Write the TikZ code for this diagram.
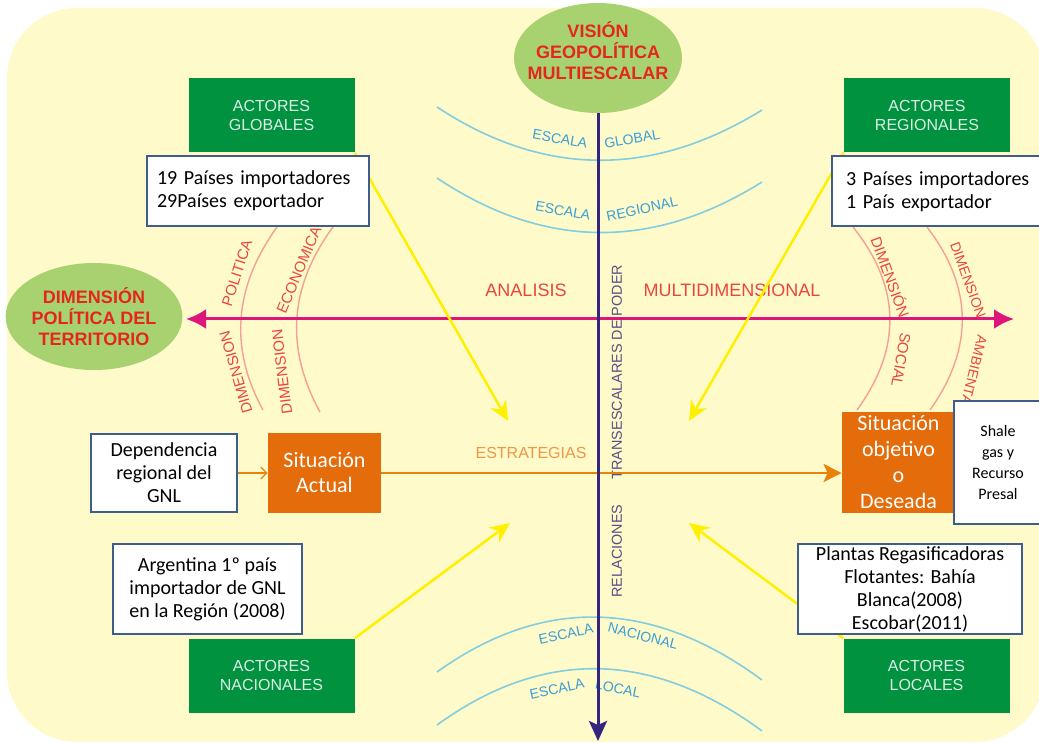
\documentclass[tikz,border=0pt]{standalone}
\usepackage{fontspec}
\setmainfont{Carlito}
\newfontfamily\arialf{Liberation Sans}
\usetikzlibrary{positioning, arrows.meta, shapes.geometric}

\definecolor{fondok}{RGB}{254, 250, 202}
\definecolor{verdek}{RGB}{0, 146, 63}
\definecolor{verdeclarok}{RGB}{168, 210, 112}
\definecolor{rojok}{RGB}{228, 38, 30}
\definecolor{magentak}{RGB}{222, 22, 124}
\definecolor{moradok}{RGB}{52, 38, 128}
\definecolor{naranjak}{RGB}{228, 108, 10}
\definecolor{naranjaclarok}{RGB}{240, 150, 70}
\definecolor{celestek}{RGB}{130, 205, 222}
\definecolor{azulk}{RGB}{58, 158, 214}
\definecolor{salmonk}{RGB}{245, 160, 150}
\definecolor{bordek}{RGB}{62, 92, 140}
\definecolor{amarillok}{RGB}{255, 240, 0}
\definecolor{grisk}{RGB}{88, 78, 132}

\tikzset{
  actor/.style={fill=verdek, minimum width=83pt, minimum height=37pt, inner sep=0pt,
                align=center, text=white!86!verdek, font=\arialf\fontsize{8}{9.5}\selectfont},
  dato/.style={draw=bordek, line width=1pt, fill=white, inner sep=0pt, align=center,
               font=\fontsize{10}{11.5}\selectfont},
  situacion/.style={fill=naranjak, text=white, inner sep=0pt, align=center,
                    font=\fontsize{11}{12.5}\selectfont},
  globo/.style={ellipse, fill=verdeclarok, inner sep=0pt, align=center, text=rojok,
                font=\arialf\bfseries\fontsize{9}{10.5}\selectfont},
  escala/.style={draw=celestek, line width=0.8pt},
  dimension/.style={draw=salmonk, line width=0.7pt},
  escalatxt/.style={text=azulk, inner sep=0pt, font=\arialf\fontsize{7}{8}\selectfont},
  dimtxt/.style={text=rojok!85!white, inner sep=0pt, font=\arialf\fontsize{7.5}{8}\selectfont},
  ejetxt/.style={text=rojok!85!white, font=\arialf\fontsize{9}{10}\selectfont},
  flecha/.style={draw=amarillok, line width=1.25pt, -{Stealth[length=10pt,width=9pt]}},
}

\begin{document}
\begin{tikzpicture}[x=0.5pt, y=-0.5pt]
  \useasboundingbox (0,0) rectangle (1039,743);
  \fill[fondok, rounded corners=35pt] (7,8) rectangle (1045,742);

  % escalas
  \draw[escala] (437,107) .. controls (543,177) and (652,178) .. (762,110);
  \draw[escala] (437,178) .. controls (543,249) and (652,251) .. (762,182);
  \draw[escala] (437,672) .. controls (543,596) and (652,599) .. (762,680);
  \draw[escala] (437,725) .. controls (543,648) and (652,650) .. (762,731);
  % dimensiones
  \draw[dimension] (277,227) .. controls (234,287) and (229,348) .. (263,410);
  \draw[dimension] (333,227) .. controls (289,287) and (285,348) .. (320,412);
  \draw[dimension] (853,227) .. controls (901,287) and (902,348) .. (857,410);
  \draw[dimension] (927,227) .. controls (973,287) and (974,348) .. (930,410);

  \node[escalatxt, rotate=-10] (eg1) at (560,139) {ESCALA};
  \node[escalatxt, rotate=10] (eg2) at (632,139) {GLOBAL};
  \node[escalatxt, rotate=-10] (er1) at (563,211) {ESCALA};
  \node[escalatxt, rotate=12] (er2) at (642,209) {REGIONAL};
  \node[escalatxt, rotate=12] (en1) at (566,634) {ESCALA};
  \node[escalatxt, rotate=-15] (en2) at (643,636) {NACIONAL};
  \node[escalatxt, rotate=12] (el1) at (557,689) {ESCALA};
  \node[escalatxt, rotate=-12] (el2) at (618,689) {LOCAL};

  \node[dimtxt, rotate=72] (dp1) at (237,273) {POLITICA};
  \node[dimtxt, rotate=106] (dp2) at (236,372) {DIMENSION};
  \node[dimtxt, rotate=67] (de1) at (299,270) {ECONOMICA};
  \node[dimtxt, rotate=97] (de2) at (282,372) {DIMENSION};
  \node[dimtxt, rotate=-70] (ds1) at (891,277) {DIMENSIÓN};
  \node[dimtxt, rotate=-100] (ds2) at (901,360) {SOCIAL};
  \node[dimtxt, rotate=-70, font=\arialf\fontsize{7}{8}\selectfont] (da1) at (968,280) {DIMENSION};
  \node[dimtxt, rotate=-104, font=\arialf\fontsize{7}{8}\selectfont] (da2) at (973,374) {AMBIENTAL};

  \node[ejetxt] (anal) at (526,290) {ANALISIS};
  \node[ejetxt] (multi) at (732,290) {MULTIDIMENSIONAL};
  \node[text=naranjaclarok, font=\arialf\fontsize{8}{9}\selectfont] (estr) at (531,453) {ESTRATEGIAS};
  \node[text=grisk, rotate=90, font=\arialf\fontsize{7.2}{8}\selectfont] (rel) at (617,551) {RELACIONES};
  \node[text=grisk, rotate=90, font=\arialf\fontsize{7.2}{8}\selectfont] (trans) at (617,372) {TRANSESCALARES\ DE\ PODER};

  % nodos
  \node[globo, minimum width=84pt, minimum height=55pt] (vis) at (598,58) {};
  \node[globo, fill=none] (visT) at (598,51) {VISIÓN\\GEOPOLÍTICA\\MULTIESCALAR};
  \node[globo, minimum width=86pt, minimum height=53.5pt] (dimpol) at (94,316.5) {DIMENSIÓN\\POLÍTICA DEL\\TERRITORIO};

  \node[actor] (glob) at (271.5,115.5) {ACTORES\\GLOBALES};
  \node[actor] (reg) at (927,115) {ACTORES\\REGIONALES};
  \node[actor] (nac) at (271.5,675.5) {ACTORES\\NACIONALES};
  \node[actor] (loc) at (926.5,675.5) {ACTORES\\LOCALES};

  \node[situacion, minimum width=56.5pt, minimum height=40pt] (actual) at (324.5,473) {Situación\\Actual};
  \node[situacion, minimum width=56.5pt, minimum height=50.5pt,
        font=\fontsize{11}{13}\selectfont] (deseada) at (898.5,462.5) {Situación\\objetivo\\o\\Deseada};

  \node[dato, minimum width=73pt, minimum height=39pt] (dep) at (164,473) {Dependencia\\regional del\\GNL};
  \node[dato, minimum width=94.5pt, minimum height=45pt] (arg) at (207.5,589) {Argentina 1º país\\importador de GNL\\en la Región (2008)};
  \node[dato, minimum width=44pt, minimum height=61.5pt,
        font=\fontsize{8}{10.5}\selectfont] (shale) at (998,462.5) {Shale\\gas y\\Recurso\\Presal};

  % ejes
  \coordinate (ejeO) at (186,319);
  \coordinate (ejeE) at (1014,319);
  \coordinate (ejeS) at (598,741);
  \draw[magentak, line width=1.5pt, {Latex[length=10pt,width=10pt]}-{Latex[length=10pt,width=10pt]}] (ejeO) -- (ejeE);
  \draw[naranjak!85!yellow, line width=1.3pt, -{Stealth[length=9pt,width=9pt,inset=2pt]}] (actual) -- (actual -| deseada.west);
  \draw[naranjak!85!yellow, line width=0.6pt, -{Straight Barb[length=3pt,width=6pt]}] (dep) -- (actual);

  \coordinate (tipGlob) at (508,421);
  \coordinate (tipReg) at (689,421);
  \coordinate (tipNac) at (510,523);
  \coordinate (tipLoc) at (689,523);
  \draw[flecha] (glob.south east) -- (tipGlob);
  \draw[flecha] (reg.south west) -- (tipReg);
  \draw[flecha] (nac.north east) -- (tipNac);
  \draw[flecha] (loc.north west) -- (tipLoc);

  \draw[moradok, line width=1.5pt, -{Stealth[length=10pt,width=9pt,inset=2pt]}] (vis) -- (ejeS);

  \node[dato, minimum height=35pt, align=left, inner xsep=5pt, text width=101pt] (imp19) at (258,191) {19 Países importadores\\29Países exportador};
  \node[dato, minimum height=35pt, align=left, inner xsep=7pt, text width=97pt] (imp3) at (943,191.5) {3 Países importadores\\1 País exportador};
  \node[dato, minimum width=112pt, minimum height=45pt] (plantas) at (910,589) {Plantas Regasificadoras\\Flotantes: Bahía\\Blanca(2008)\\Escobar(2011)};
\end{tikzpicture}
\end{document}
